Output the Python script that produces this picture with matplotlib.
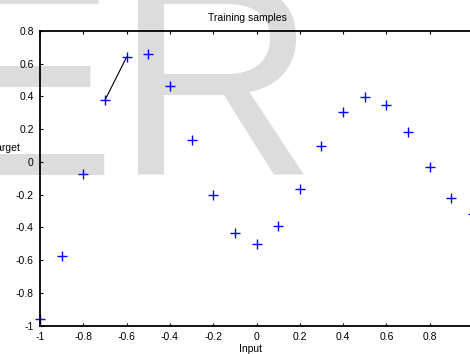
import matplotlib
matplotlib.use("Agg")
import matplotlib.pyplot as plt
from matplotlib.path import Path
from matplotlib.transforms import IdentityTransform
import numpy as np

# Data
inputs = [-1.0, -0.9, -0.8, -0.7, -0.6, -0.5, -0.4, -0.3, -0.2, -0.1, 0.0,
          0.1, 0.2, 0.3, 0.4, 0.5, 0.6, 0.7, 0.8, 0.9, 1.0]
targets = [-0.9602, -0.5770, -0.0729, 0.3771, 0.6405, 0.6600, 0.4609, 0.1336,
           -0.2013, -0.4344, -0.5000, -0.3930, -0.1647, 0.0988, 0.3072, 0.3960,
           0.3449, 0.1816, -0.0312, -0.2189, -0.3201]
segment_x = [-0.7, -0.6]
segment_y = [0.3771, 0.6405]
xtick_vals = [-1, -0.8, -0.6, -0.4, -0.2, 0, 0.2, 0.4, 0.6, 0.8, 1]
xtick_labels = ["-1", "-0.8", "-0.6", "-0.4", "-0.2", "0", "0.2", "0.4", "0.6", "0.8", "1"]
ytick_vals = [-1, -0.8, -0.6, -0.4, -0.2, 0, 0.2, 0.4, 0.6, 0.8]
ytick_labels = ["-1", "-0.8", "-0.6", "-0.4", "-0.2", "0", "0.2", "0.4", "0.6", "0.8"]

plt.rcParams['font.family'] = ['Liberation Sans', 'DejaVu Sans']

W, H = 470, 354
fig = plt.figure(figsize=(W / 100, H / 100), dpi=100)

# watermark (background overlay)
wm = fig.text(-71 / W, 1 - 175 / H, "ER", fontsize=201, color='#dcdcdc',
              ha='left', va='baseline', zorder=0, family='Liberation Sans')
clip = Path([(-300, -50), (800, -50), (800, 600), (125, 600), (125, H - 8),
             (-300, H - 8), (-300, -50)], closed=True)
wm.set_clip_path(clip, IdentityTransform())

ax = fig.add_axes([40 / W, 1 - 325.5 / H, (473 - 40) / W, (325.5 - 31) / H])
ax.set_facecolor('none')
ax.set_zorder(1)

ax.plot(segment_x, segment_y, color='black', lw=0.8)
ax.plot(inputs, targets, linestyle='none', marker='+', color='#0000ff',
        ms=6.5, mew=1.0, clip_on=False)

ax.set_xlim(-1, 1)
ax.set_ylim(-1, 0.8)
ax.set_xticks(xtick_vals)
ax.set_xticklabels(xtick_labels)
ax.set_yticks(ytick_vals)
ax.set_yticklabels(ytick_labels)
ax.tick_params(direction='in', length=2.5, width=0.8, top=True, right=True,
               labelsize=7.5, pad=4.5, colors='black')
for s in ax.spines.values():
    s.set_linewidth(1.3)

ax.set_title("Training samples", x=0.478, pad=7, fontsize=7.5)
ax.set_xlabel("Input", fontsize=7.5, va='center')
ax.xaxis.set_label_coords(0.487, -0.08)
ax.set_ylabel("Target", fontsize=7.5, rotation=0, ha='right', va='center')
ax.yaxis.set_label_coords(-19 / 433, (325.5 - 148) / 294.5)

fig.savefig("out.png", dpi=100)
